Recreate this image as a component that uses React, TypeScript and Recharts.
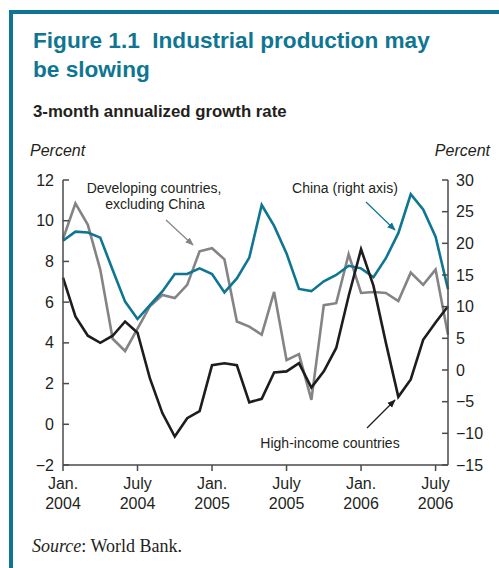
import React from 'react';
import { LineChart, Line, XAxis, YAxis } from 'recharts';

// monthly, Jan. 2004 – Aug. 2006
const months = [
  'Jan04', 'Feb04', 'Mar04', 'Apr04', 'May04', 'Jun04', 'Jul04', 'Aug04', 'Sep04', 'Oct04', 'Nov04', 'Dec04',
  'Jan05', 'Feb05', 'Mar05', 'Apr05', 'May05', 'Jun05', 'Jul05', 'Aug05', 'Sep05', 'Oct05', 'Nov05', 'Dec05',
  'Jan06', 'Feb06', 'Mar06', 'Apr06', 'May06', 'Jun06', 'Jul06', 'Aug06',
];

// left axis, percent
const highIncome = [
  7.2, 5.3, 4.35, 4.0, 4.35, 5.05, 4.5, 2.25, 0.55, -0.6, 0.3, 0.65,
  2.9, 3.0, 2.9, 1.08, 1.25, 2.55, 2.6, 3.0, 1.8, 2.6, 3.75, 6.3,
  8.6, 6.8, 4.0, 1.35, 2.2, 4.15, 5.0, 5.8,
];
const developing = [
  9.1, 10.85, 9.8, 7.6, 4.2, 3.6, 4.7, 5.8, 6.35, 6.2, 6.85, 8.5,
  8.65, 8.1, 5.05, 4.8, 4.4, 6.5, 3.15, 3.45, 1.2, 5.85, 5.95, 8.35,
  6.45, 6.5, 6.45, 6.05, 7.45, 6.85, 7.6, 4.4,
];
// right axis, percent
const china = [
  20.4, 21.85, 21.7, 20.9, 15.8, 10.8, 8.05, 10.25, 12.4, 15.15, 15.15, 16.05,
  15.15, 12.25, 14.45, 17.75, 26.05, 22.75, 18.4, 12.8, 12.45, 14.0, 15.0, 16.45,
  16.05, 14.65, 17.65, 21.6, 27.75, 25.35, 21.05, 12.75,
];

const xTicks = [0, 6, 12, 18, 24, 30];
const xTickLabels = [
  ['Jan.', '2004'], ['July', '2004'], ['Jan.', '2005'],
  ['July', '2005'], ['Jan.', '2006'], ['July', '2006'],
];
const leftTicks = [-2, 0, 2, 4, 6, 8, 10, 12];
const rightTicks = [-15, -10, -5, 0, 5, 10, 15, 20, 25, 30];

const data = months.map((m, i) => ({
  idx: i,
  month: m,
  highIncome: highIncome[i],
  developing: developing[i],
  china: china[i],
}));

const TEAL = '#0e7692';
const GRAY = '#848487';
const BLACK = '#1e1c1d';
const AXIS = '#4a4a4a';
const TEXT = '#231f20';
const SANS = '"Liberation Sans", Arial, Helvetica, sans-serif';

const W = 499;
const H = 568;
const margin = { top: 180, right: 11, bottom: 63, left: 23 };
const yAxisW = 40;
const plotLeft = margin.left + yAxisW;
const plotRight = W - margin.right - yAxisW;

const fmt = (v: number) => (v < 0 ? `\u2212${Math.abs(v)}` : `${v}`);

const LeftTick = (props: any) => {
  const { y, payload } = props;
  return (
    <g>
      <line x1={plotLeft} x2={plotLeft + 6} y1={y} y2={y} stroke={AXIS} strokeWidth={1.5} />
      <text x={plotLeft - 9} y={y} dy={5.5} textAnchor="end" fill={TEXT} fontSize={16} fontFamily={SANS}>
        {fmt(payload.value)}
      </text>
    </g>
  );
};

const RightTick = (props: any) => {
  const { y, payload } = props;
  return (
    <g>
      <line x1={plotRight} x2={plotRight - 6} y1={y} y2={y} stroke={AXIS} strokeWidth={1.5} />
      <text x={plotRight + 8} y={y} dy={5.5} textAnchor="start" fill={TEXT} fontSize={16} fontFamily={SANS}>
        {fmt(payload.value)}
      </text>
    </g>
  );
};

const BottomTick = (props: any) => {
  const { x, y, payload } = props;
  const k = xTicks.indexOf(payload.value);
  const lines = xTickLabels[k] || ['', ''];
  return (
    <text x={x} y={y} textAnchor="middle" fill={TEXT} fontSize={16} fontFamily={SANS}>
      <tspan x={x} dy={16}>{lines[0]}</tspan>
      <tspan x={x} dy={20}>{lines[1]}</tspan>
    </text>
  );
};

export default function App() {
  return (
    <div style={{ position: 'absolute', left: 0, top: 0, width: W, height: H, background: '#fff', overflow: 'hidden' }}>
      {/* frame */}
      <div style={{ position: 'absolute', left: 9, top: 10, width: W - 9, height: 4, background: TEAL }} />
      <div style={{ position: 'absolute', left: 9, top: 10, width: 4, height: H - 10, background: TEAL }} />

      <div style={{ position: 'absolute', left: 33, top: 26, fontFamily: SANS, fontWeight: 700, fontSize: 22.6, lineHeight: '29px', color: TEAL }}>
        Figure 1.1&nbsp; Industrial production may
        <br />
        be slowing
      </div>
      <div style={{ position: 'absolute', left: 33, top: 102, fontFamily: SANS, fontWeight: 700, fontSize: 16.8, color: TEXT }}>
        3-month annualized growth rate
      </div>
      <div style={{ position: 'absolute', left: 30, top: 142, fontFamily: SANS, fontStyle: 'italic', fontSize: 16, color: TEXT }}>
        Percent
      </div>
      <div style={{ position: 'absolute', right: 9, top: 142, fontFamily: SANS, fontStyle: 'italic', fontSize: 16, color: TEXT }}>
        Percent
      </div>

      <div style={{ position: 'absolute', left: 0, top: 0 }}>
        <LineChart width={W} height={H} data={data} margin={margin}>
          <XAxis
            dataKey="idx"
            type="number"
            domain={[0, 31]}
            ticks={xTicks}
            tick={<BottomTick />}
            stroke={AXIS}
            strokeWidth={1.5}
            tickSize={6}
            height={40}
            interval={0}
          />
          <YAxis
            yAxisId="left"
            domain={[-2, 12]}
            ticks={leftTicks}
            tick={<LeftTick />}
            tickLine={false}
            stroke={AXIS}
            strokeWidth={1.5}
            width={yAxisW}
            interval={0}
            allowDataOverflow
          />
          <YAxis
            yAxisId="right"
            orientation="right"
            domain={[-15, 30]}
            ticks={rightTicks}
            tick={<RightTick />}
            tickLine={false}
            stroke={AXIS}
            strokeWidth={1.5}
            width={yAxisW}
            interval={0}
            allowDataOverflow
          />
          <Line yAxisId="left" type="linear" dataKey="developing" stroke={GRAY} strokeWidth={2.6} dot={false} isAnimationActive={false} />
          <Line yAxisId="right" type="linear" dataKey="china" stroke={TEAL} strokeWidth={2.6} dot={false} isAnimationActive={false} />
          <Line yAxisId="left" type="linear" dataKey="highIncome" stroke={BLACK} strokeWidth={2.6} dot={false} isAnimationActive={false} />
        </LineChart>
      </div>

      {/* annotations */}
      <svg width={W} height={H} style={{ position: 'absolute', left: 0, top: 0, pointerEvents: 'none' }}>
        <defs>
          <marker id="ahGray" viewBox="0 0 10 10" refX="9" refY="5" markerWidth="7" markerHeight="7" orient="auto">
            <path d="M0,1 L10,5 L0,9 Z" fill={GRAY} />
          </marker>
          <marker id="ahTeal" viewBox="0 0 10 10" refX="9" refY="5" markerWidth="7" markerHeight="7" orient="auto">
            <path d="M0,1 L10,5 L0,9 Z" fill={TEAL} />
          </marker>
          <marker id="ahBlack" viewBox="0 0 10 10" refX="9" refY="5" markerWidth="7" markerHeight="7" orient="auto">
            <path d="M0,1 L10,5 L0,9 Z" fill={BLACK} />
          </marker>
        </defs>
        <g fontFamily={SANS} fontSize={14} fill={TEXT} textAnchor="middle">
          <text x={154} y={193}>Developing countries,</text>
          <text x={155} y={209}>excluding China</text>
          <text x={345} y={193}>China (right axis)</text>
          <text x={330} y={448}>High-income countries</text>
        </g>
        <line x1={166} y1={220} x2={193} y2={245} stroke={GRAY} strokeWidth={1.2} markerEnd="url(#ahGray)" />
        <line x1={366} y1={202} x2={395} y2={230} stroke={TEAL} strokeWidth={1.2} markerEnd="url(#ahTeal)" />
        <line x1={367} y1={428} x2={395} y2={400} stroke={BLACK} strokeWidth={1.2} markerEnd="url(#ahBlack)" />
      </svg>

      <div style={{ position: 'absolute', left: 32, top: 536, fontFamily: '"Liberation Serif", "Times New Roman", serif', fontSize: 18, color: TEXT }}>
        <i>Source</i>: World Bank.
      </div>
    </div>
  );
}
